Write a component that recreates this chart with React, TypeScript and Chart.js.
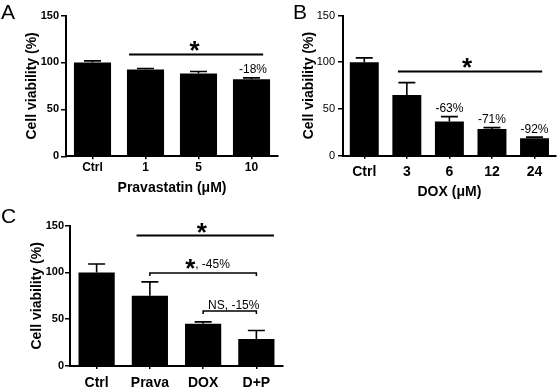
import React, { useEffect, useRef } from "react";
import { Chart, registerables } from "chart.js";

Chart.register(...registerables);

const FONT = "'Liberation Sans', Arial, Helvetica, sans-serif";

// ---- Panel A data ----
const catsA = ["Ctrl", "1", "5", "10"];
const valsA = [100, 92.5, 88.3, 82];
const errA = [1.7, 1.1, 2.1, 1.6];
const pctA = ["", "", "", "-18%"];

// ---- Panel B data ----
const catsB = ["Ctrl", "3", "6", "12", "24"];
const valsB = [100, 65, 36.5, 28.7, 18.8];
const errB = [4.7, 13.2, 5.3, 1.3, 1.1];
const pctB = ["", "", "-63%", "-71%", "-92%"];

// ---- Panel C data ----
const catsC = ["Ctrl", "Prava", "DOX", "D+P"];
const valsC = [100, 75.2, 45.1, 29];
const errC = [9, 14.7, 2.1, 9];

const yTicks = [0, 50, 100, 150];

type Area = { left: number; right: number; top: number; bottom: number };

type PanelOpts = {
  labels: string[];
  values: number[];
  errors: number[];
  width: number;
  height: number;
  area: Area;
  barPct: number;
  yTitlePad: number;
  yTickFont: any;
  yTickPad: number;
  xTickFont: any;
  xTickPad: number;
  xTitle?: string;
  xTitlePadBottom?: number;
  draw: (chart: any) => void;
};

function textAt(ctx: CanvasRenderingContext2D, str: string, x: number, y: number, font: string, align: CanvasTextAlign = "left") {
  ctx.save();
  ctx.font = font;
  ctx.fillStyle = "#000";
  ctx.textAlign = align;
  ctx.textBaseline = "alphabetic";
  ctx.fillText(str, x, y);
  ctx.restore();
}

function centeredGlyph(ctx: CanvasRenderingContext2D, str: string, cx: number, cy: number, font: string) {
  ctx.save();
  ctx.font = font;
  ctx.fillStyle = "#000";
  ctx.textAlign = "left";
  ctx.textBaseline = "alphabetic";
  const m = ctx.measureText(str);
  const inkW = m.actualBoundingBoxRight + m.actualBoundingBoxLeft;
  const x = cx - inkW / 2 + m.actualBoundingBoxLeft;
  const y = cy + (m.actualBoundingBoxAscent - m.actualBoundingBoxDescent) / 2;
  ctx.fillText(str, x, y);
  ctx.restore();
}

function hLine(ctx: CanvasRenderingContext2D, x1: number, x2: number, y: number, lw: number) {
  ctx.save();
  ctx.strokeStyle = "#000";
  ctx.lineWidth = lw;
  ctx.beginPath();
  ctx.moveTo(x1, y);
  ctx.lineTo(x2, y);
  ctx.stroke();
  ctx.restore();
}

function bracket(ctx: CanvasRenderingContext2D, x1: number, x2: number, y: number, drop: number, lw: number) {
  ctx.save();
  ctx.strokeStyle = "#000";
  ctx.lineWidth = lw;
  ctx.beginPath();
  ctx.moveTo(x1, y + drop);
  ctx.lineTo(x1, y);
  ctx.lineTo(x2, y);
  ctx.lineTo(x2, y + drop);
  ctx.stroke();
  ctx.restore();
}

const STAR_FONT = `bold 26px ${FONT}`;
const PCT_FONT = `12px ${FONT}`;
const LETTER_FONT = `21px ${FONT}`;

function makeChart(canvas: HTMLCanvasElement, o: PanelOpts) {
  const errorPlugin = {
    id: "errorsAndNotes",
    afterDatasetsDraw(chart: any) {
      const ctx: CanvasRenderingContext2D = chart.ctx;
      const meta = chart.getDatasetMeta(0);
      const ys = chart.scales.y;
      ctx.save();
      ctx.strokeStyle = "#000";
      ctx.lineWidth = 1.6;
      meta.data.forEach((bar: any, i: number) => {
        const top = ys.getPixelForValue(o.values[i] + o.errors[i]);
        ctx.beginPath();
        ctx.moveTo(bar.x, bar.y);
        ctx.lineTo(bar.x, top);
        ctx.moveTo(bar.x - 8.5, top);
        ctx.lineTo(bar.x + 8.5, top);
        ctx.stroke();
      });
      ctx.restore();
      o.draw(chart);
    },
  };

  return new Chart(canvas, {
    type: "bar",
    data: {
      labels: o.labels,
      datasets: [
        {
          data: o.values,
          backgroundColor: "#000",
          borderWidth: 0,
          barPercentage: o.barPct,
          categoryPercentage: 1,
        },
      ],
    },
    options: {
      responsive: false,
      animation: false,
      devicePixelRatio: 1,
      layout: {
        padding: { left: 0, top: o.area.top, right: o.width - o.area.right, bottom: 0 },
      },
      plugins: {
        legend: { display: false },
        tooltip: { enabled: false },
      },
      scales: {
        x: {
          type: "category",
          offset: true,
          grid: {
            offset: false,
            drawOnChartArea: false,
            drawTicks: true,
            tickLength: 3,
            color: "#000",
            lineWidth: 1.5,
          },
          border: { display: true, color: "#000", width: 2 },
          ticks: {
            color: "#000",
            font: o.xTickFont,
            padding: o.xTickPad,
            maxRotation: 0,
            autoSkip: false,
          },
          title: o.xTitle
            ? {
                display: true,
                text: o.xTitle,
                color: "#000",
                font: { family: FONT, size: 14, weight: "bold" },
                padding: { top: 0, bottom: o.xTitlePadBottom ?? 0 },
              }
            : { display: false },
          afterFit: (s: any) => {
            s.height = o.height - o.area.bottom;
          },
        },
        y: {
          min: 0,
          max: 150,
          afterBuildTicks: (s: any) => {
            s.ticks = yTicks.map((v) => ({ value: v }));
          },
          ticks: {
            color: "#000",
            font: o.yTickFont,
            padding: o.yTickPad,
          },
          grid: {
            drawOnChartArea: false,
            drawTicks: true,
            tickLength: 5,
            color: "#000",
            lineWidth: 1.5,
          },
          border: { display: true, color: "#000", width: 2 },
          title: {
            display: true,
            text: "Cell viability (%)",
            color: "#000",
            font: { family: FONT, size: 14, weight: "bold" },
            padding: { top: o.yTitlePad, bottom: 0 },
          },
          afterFit: (s: any) => {
            s.width = o.area.left;
          },
        },
      },
    } as any,
    plugins: [errorPlugin],
  });
}

function Panel({ left, top, opts }: { left: number; top: number; opts: PanelOpts }) {
  const ref = useRef<HTMLCanvasElement | null>(null);
  useEffect(() => {
    if (!ref.current) return;
    const chart = makeChart(ref.current, opts);
    return () => chart.destroy();
  }, []);
  return (
    <canvas
      ref={ref}
      width={opts.width}
      height={opts.height}
      style={{ position: "absolute", left, top, width: opts.width, height: opts.height, display: "block" }}
    />
  );
}

const optsA: PanelOpts = {
  labels: catsA,
  values: valsA,
  errors: errA,
  width: 280,
  height: 200,
  area: { left: 66, right: 278, top: 15.5, bottom: 156.3 },
  barPct: 0.7,
  yTitlePad: 23.6,
  yTickFont: { family: FONT, size: 11, weight: "bold" },
  yTickPad: 2,
  xTickFont: { family: FONT, size: 12, weight: "bold" },
  xTickPad: 1,
  xTitle: "Pravastatin (\u03BCM)",
  xTitlePadBottom: 3.6,
  draw: (chart: any) => {
    const ctx = chart.ctx;
    const xs = chart.scales.x;
    const ys = chart.scales.y;
    textAt(ctx, "A", 1, 19.3, LETTER_FONT);
    const y = ys.getPixelForValue(108.5);
    const x1 = xs.getPixelForValue(0.69);
    const x2 = xs.getPixelForValue(3.22);
    hLine(ctx, x1, x2, y, 2);
    centeredGlyph(ctx, "*", (x1 + x2) / 2 - 1, y - 8.5, STAR_FONT);
    pctA.forEach((p, i) => {
      if (!p) return;
      const top = ys.getPixelForValue(valsA[i] + errA[i]);
      textAt(ctx, p, xs.getPixelForValue(i) + 1.5, top - 4.4, PCT_FONT, "center");
    });
  },
};

const optsB: PanelOpts = {
  labels: catsB,
  values: valsB,
  errors: errB,
  width: 278,
  height: 205,
  area: { left: 63, right: 275.8, top: 15.5, bottom: 155.7 },
  barPct: 0.68,
  yTitlePad: 20.6,
  yTickFont: { family: FONT, size: 11, weight: "normal" },
  yTickPad: 3,
  xTickFont: { family: FONT, size: 14, weight: "bold" },
  xTickPad: 5,
  xTitle: "DOX (\u03BCM)",
  xTitlePadBottom: 4.6,
  draw: (chart: any) => {
    const ctx = chart.ctx;
    const xs = chart.scales.x;
    const ys = chart.scales.y;
    textAt(ctx, "B", 13, 19.3, LETTER_FONT);
    const y = ys.getPixelForValue(90.1);
    const x1 = xs.getPixelForValue(0.79);
    const x2 = xs.getPixelForValue(4.18);
    hLine(ctx, x1, x2, y, 2);
    centeredGlyph(ctx, "*", (x1 + x2) / 2 - 2.5, y - 8.8, STAR_FONT);
    pctB.forEach((p, i) => {
      if (!p) return;
      const top = ys.getPixelForValue(valsB[i] + errB[i]);
      textAt(ctx, p, xs.getPixelForValue(i), top - 4.5, PCT_FONT, "center");
    });
  },
};

const optsC: PanelOpts = {
  labels: catsC,
  values: valsC,
  errors: errC,
  width: 290,
  height: 194,
  area: { left: 70, right: 283, top: 30.7, bottom: 171 },
  barPct: 0.68,
  yTitlePad: 28.6,
  yTickFont: { family: FONT, size: 11, weight: "bold" },
  yTickPad: 1,
  xTickFont: { family: FONT, size: 14, weight: "bold" },
  xTickPad: 6,
  draw: (chart: any) => {
    const ctx = chart.ctx;
    const xs = chart.scales.x;
    const ys = chart.scales.y;
    textAt(ctx, "C", 1, 28.3, LETTER_FONT);
    // overall line
    const yTop = ys.getPixelForValue(139.4);
    const t1 = xs.getPixelForValue(0.75);
    const t2 = xs.getPixelForValue(3.33);
    hLine(ctx, t1, t2, yTop, 2);
    centeredGlyph(ctx, "*", (t1 + t2) / 2 - 3, yTop - 8, STAR_FONT);
    // bracket Prava vs D+P
    const yb1 = ys.getPixelForValue(99.3);
    const b1a = xs.getPixelForValue(1);
    const b1b = xs.getPixelForValue(3);
    bracket(ctx, b1a, b1b, yb1, 3, 1.5);
    const mid1 = (b1a + b1b) / 2;
    centeredGlyph(ctx, "*", mid1 - 12.4, yb1 - 9.2, STAR_FONT);
    textAt(ctx, ", -45%", mid1 - 8, yb1 - 5, PCT_FONT, "left");
    // bracket DOX vs D+P
    const yb2 = ys.getPixelForValue(58.8);
    const b2a = xs.getPixelForValue(2);
    const b2b = xs.getPixelForValue(3);
    bracket(ctx, b2a, b2b, yb2, 3, 1.5);
    textAt(ctx, "NS, -15%", (b2a + b2b) / 2 + 4, yb2 - 2, PCT_FONT, "center");
  },
};

export default function App() {
  return (
    <div
      style={{
        position: "fixed",
        left: 0,
        top: 0,
        width: 558,
        height: 389,
        background: "#fff",
        overflow: "hidden",
      }}
    >
      <Panel left={0} top={0} opts={optsA} />
      <Panel left={280} top={0} opts={optsB} />
      <Panel left={0} top={195} opts={optsC} />
    </div>
  );
}
